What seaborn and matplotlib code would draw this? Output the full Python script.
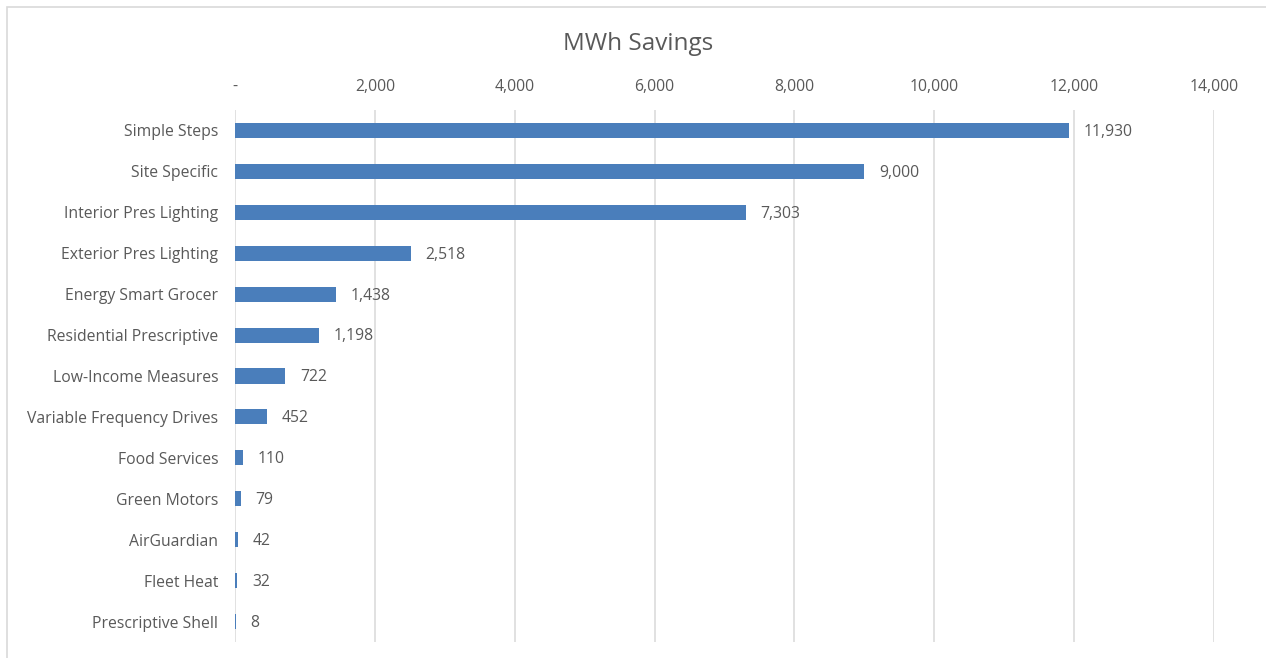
import matplotlib
matplotlib.use("Agg")
import matplotlib.pyplot as plt
from matplotlib.ticker import FuncFormatter, MultipleLocator
from matplotlib.patches import Rectangle
import seaborn as sns
import pandas as pd

programs = [
    "Simple Steps", "Site Specific", "Interior Pres Lighting", "Exterior Pres Lighting",
    "Energy Smart Grocer", "Residential Prescriptive", "Low-Income Measures",
    "Variable Frequency Drives", "Food Services", "Green Motors", "AirGuardian",
    "Fleet Heat", "Prescriptive Shell",
]
mwh_savings = [11930, 9000, 7303, 2518, 1438, 1198, 722, 452, 110, 79, 42, 32, 8]

df = pd.DataFrame({"program": programs, "mwh": mwh_savings})

sns.set_theme(style="white")
plt.rcParams["font.family"] = ["Open Sans", "DejaVu Sans"]

TEXT = "#595959"
BAR = "#4A7EBB"
GRID = "#D9D9D9"
FS = 11.3

W, H = 1266, 658
fig = plt.figure(figsize=(W / 100, H / 100), dpi=100)
fig.patch.set_facecolor("white")

# chart area frame
fig.patches.append(Rectangle((7 / W, -0.05), 1.2, 1 - 7 / H + 0.05,
                             transform=fig.transFigure, fill=False,
                             edgecolor="#D9D9D9", linewidth=1.2))

ax = fig.add_axes([235 / W, 1 - 642 / H, (1214 - 235) / W, (642 - 110) / H])

sns.barplot(data=df, x="mwh", y="program", orient="h", color=BAR,
            width=0.37, saturation=1, ax=ax, edgecolor="none")

ax.set_xlim(0, 14000)
ax.set_ylim(len(programs) - 0.5, -0.5)
ax.xaxis.set_major_locator(MultipleLocator(2000))
ax.xaxis.set_major_formatter(FuncFormatter(lambda v, p: "-" if v == 0 else f"{int(v):,}"))
ax.xaxis.tick_top()
ax.grid(axis="x", color=GRID, linewidth=1.1)
ax.grid(axis="y", visible=False)
ax.set_axisbelow(True)
for s in ax.spines.values():
    s.set_visible(False)
ax.set_xlabel("")
ax.set_ylabel("")
ax.tick_params(axis="x", length=0, pad=11, labelsize=FS, labelcolor=TEXT)
ax.tick_params(axis="y", length=0, pad=12, labelsize=FS, labelcolor=TEXT)

for i, v in enumerate(df["mwh"]):
    ax.annotate(f"{v:,}", xy=(v, i), xytext=(10.5, -1), textcoords="offset points",
                ha="left", va="center", fontsize=FS, color=TEXT)

fig.text(638 / W, 1 - 44 / H, "MWh Savings", ha="center", va="center",
         fontsize=17.5, color=TEXT)

fig.savefig("out.png", dpi=100)
